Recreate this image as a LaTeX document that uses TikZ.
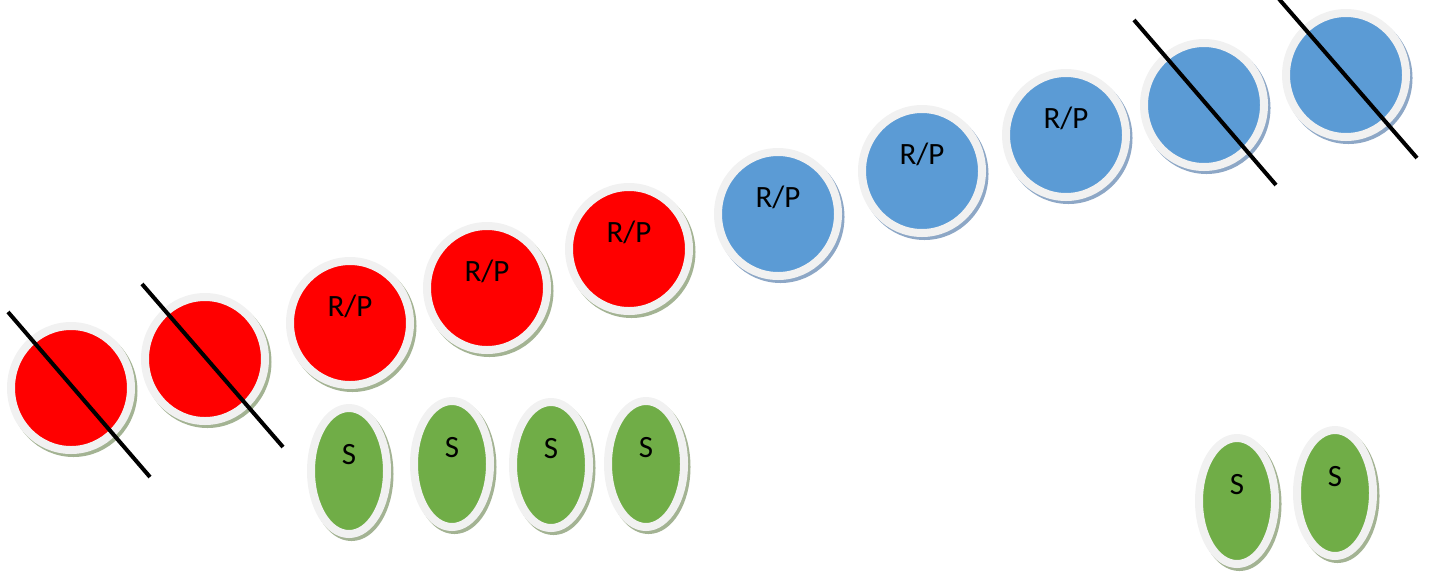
\documentclass[tikz,border=0pt]{standalone}
\usepackage{fontspec}
\setmainfont{Carlito}
\usetikzlibrary{shapes.geometric}
\definecolor{ringgrey}{HTML}{F1F1F1}
\definecolor{redfill}{HTML}{FF0000}
\definecolor{bluefill}{HTML}{5B9BD5}
\definecolor{greenfill}{HTML}{70AD47}
\definecolor{shgreen}{HTML}{A3B393}
\definecolor{shblue}{HTML}{8DA7C6}
\tikzset{
  base/.style={ellipse, inner sep=0pt, draw=ringgrey, line width=8pt},
  withshadow/.style={preaction={draw=#1, fill=#1, transform canvas={shift={(2.5pt,-3pt)}}}},
  disc/.style={base, minimum width=120pt, minimum height=124pt},
  seed/.style={base, minimum width=76pt, minimum height=126pt, fill=greenfill, withshadow=shgreen},
  reddisc/.style={disc, fill=redfill, withshadow=shgreen},
  bluedisc/.style={disc, fill=bluefill, withshadow=shblue},
  txt/.style={font=\fontsize{31}{31}\selectfont, inner sep=0pt, text height=0.644em, text depth=0pt, yshift=10pt},
  strike/.style={line width=4pt, black}
}
\begin{document}
\begin{tikzpicture}[x=1pt,y=-1pt]
\useasboundingbox (0,0) rectangle (1429,574);
% red discs
\node[reddisc] (r1) at (71,388) {};
\node[reddisc] (r2) at (205,359) {};
\node[reddisc, label={[txt]center:R/P}] (r3) at (350,323) {};
\node[reddisc, label={[txt]center:R/P}] (r4) at (487,288) {};
\node[reddisc, label={[txt]center:R/P}] (r5) at (629,249) {};
% blue discs
\node[bluedisc, label={[txt]center:R/P}] (b1) at (778,214) {};
\node[bluedisc, label={[txt]center:R/P}] (b2) at (922,171) {};
\node[bluedisc, label={[txt]center:R/P}] (b3) at (1066,135) {};
\node[bluedisc] (b4) at (1204,105) {};
\node[bluedisc] (b5) at (1346,75) {};
% seeds
\node[seed, label={[txt]center:S}] (s1) at (349,471) {};
\node[seed, label={[txt]center:S}] (s2) at (452,464) {};
\node[seed, label={[txt]center:S}] (s3) at (551,465) {};
\node[seed, label={[txt]center:S}] (s4) at (646,464) {};
\node[seed, label={[txt]center:S}] (s5) at (1237,501) {};
\node[seed, label={[txt]center:S}] (s6) at (1335,493) {};
% strike-through lines
\coordinate (r1a) at (8,312);   \coordinate (r1b) at (150,477);
\coordinate (r2a) at (142,284); \coordinate (r2b) at (283,447);
\coordinate (b4a) at (1134,20); \coordinate (b4b) at (1276,185);
\coordinate (b5a) at (1279,-1); \coordinate (b5b) at (1417,158);
\draw[strike] (r1a) -- (r1b);
\draw[strike] (r2a) -- (r2b);
\draw[strike] (b4a) -- (b4b);
\draw[strike] (b5a) -- (b5b);
\end{tikzpicture}
\end{document}
